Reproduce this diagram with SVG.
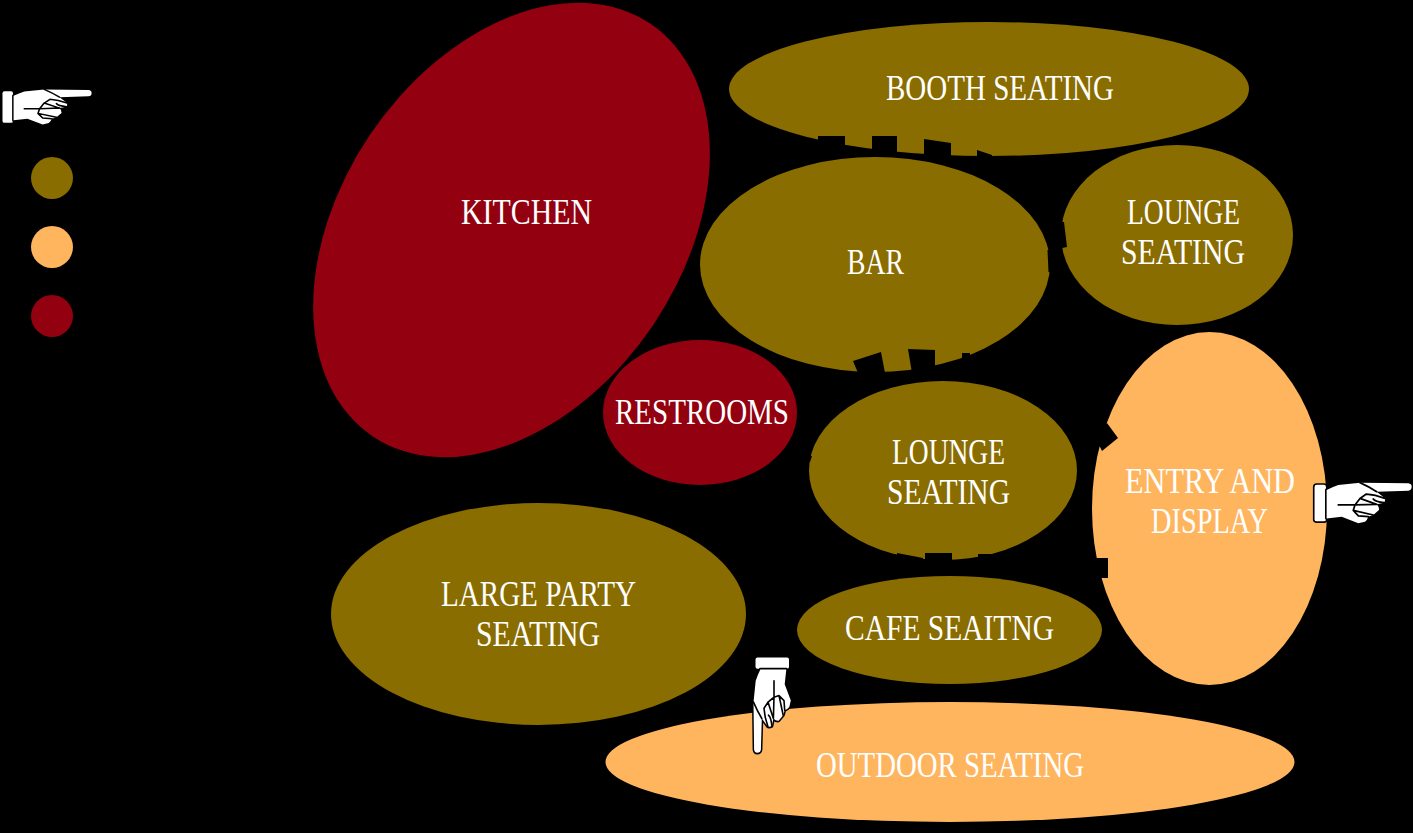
<svg xmlns="http://www.w3.org/2000/svg" xmlns:xlink="http://www.w3.org/1999/xlink" width="1413" height="833" viewBox="0 0 1413 833">
<style>
.o{fill:#8a6d00}.p{fill:#ffb55e}.r{fill:#93000f}.n{fill:#000}
text{font-family:"Liberation Serif","DejaVu Serif",serif;font-size:36px;fill:#fff}
.w{fill:#fff;stroke:#000;stroke-width:3;stroke-linejoin:round;paint-order:stroke}
.l{fill:none;stroke:#000;stroke-width:1.6;stroke-linecap:round;stroke-linejoin:round}
</style>
<defs>
<g id="hand">
<rect class="w" x="0.500" y="3.500" width="10.500" height="33.500" rx="2"/>
<path class="w" d="M11.600 8.300Q17 5.500 22.300 3.700L42.200 1.500L86.500 2.100Q89.600 2.500 89.600 5.200Q89.600 8.500 86.500 8.900L57.500 9.800L65.100 15.900Q65.500 18 64.500 19.900L57.500 21.400Q60 24 59.600 26.600L54.400 31.200L49.800 32.700Q49 35.500 46.800 37.300L40.700 38.800L25.400 32.700L11.600 34.300Z"/>
<path class="l" d="M42.200 1.500Q50 5 57.500 9.800M22.300 22H37.600L42.200 16L48 12Q56 12.500 65.100 15.900M54.400 16.500Q56 19 64.500 19.900M37.600 22L57.500 21.400M42.200 16L57.500 21.400M36 27L54.400 31.200M37.600 22L36 27L40.700 32L49.800 32.700"/>
</g>
</defs>
<rect id="background" width="1413" height="833" fill="#000"/>
<g id="legend">
<g id="legend-hand"><use href="#hand" xlink:href="#hand" transform="translate(2,88) scale(1,.94)"/></g>
<circle id="legend-olive" class="o" cx="52" cy="178" r="21"/>
<circle id="legend-peach" class="p" cx="52" cy="247" r="21"/>
<circle id="legend-red" class="r" cx="52" cy="316" r="21"/>
</g>
<g id="kitchen"><ellipse class="r" cx="0" cy="0" rx="170.600" ry="248.700" transform="translate(511.500,230) rotate(34)"/><text x="461" y="224" textLength="131" lengthAdjust="spacingAndGlyphs">KITCHEN</text></g>
<g id="booth-seating"><ellipse class="o" cx="989" cy="89" rx="260" ry="67"/><text x="886" y="100" textLength="228" lengthAdjust="spacingAndGlyphs">BOOTH SEATING</text></g>
<g id="connectors-top"><path class="n" d="M818 136H845V150H818ZM872 136H897V155H872ZM924 139L951 143V157H924ZM977 150L992 155V160H977Z"/></g>
<g id="bar"><ellipse class="o" cx="875" cy="264.500" rx="175" ry="107.500"/><text x="847" y="274" textLength="57" lengthAdjust="spacingAndGlyphs">BAR</text></g>
<g id="lounge-seating-1"><ellipse class="o" cx="1177" cy="235" rx="116" ry="90"/><text x="1127" y="224" textLength="113" lengthAdjust="spacingAndGlyphs">LOUNGE</text><text x="1121" y="264" textLength="124" lengthAdjust="spacingAndGlyphs">SEATING</text></g>
<g id="restrooms"><ellipse class="r" cx="700" cy="412.500" rx="97" ry="72.500"/><text x="615" y="424" textLength="174" lengthAdjust="spacingAndGlyphs">RESTROOMS</text></g>
<g id="lounge-seating-2"><ellipse class="o" cx="943" cy="470.500" rx="134" ry="89.500"/><text x="892" y="464" textLength="113" lengthAdjust="spacingAndGlyphs">LOUNGE</text><text x="887" y="504" textLength="123" lengthAdjust="spacingAndGlyphs">SEATING</text></g>
<g id="entry-display"><ellipse class="p" cx="1209.500" cy="508.500" rx="117.500" ry="176.500"/><text x="1125" y="493" textLength="170" lengthAdjust="spacingAndGlyphs">ENTRY AND</text><text x="1151" y="533" textLength="117" lengthAdjust="spacingAndGlyphs">DISPLAY</text></g>
<g id="large-party"><ellipse class="o" cx="538.500" cy="614" rx="207.500" ry="111"/><text x="441" y="606" textLength="195" lengthAdjust="spacingAndGlyphs">LARGE PARTY</text><text x="476" y="646" textLength="124" lengthAdjust="spacingAndGlyphs">SEATING</text></g>
<g id="cafe-seating"><ellipse class="o" cx="949.500" cy="630" rx="152.500" ry="54"/><text x="845" y="640" textLength="209" lengthAdjust="spacingAndGlyphs">CAFE SEAITNG</text></g>
<g id="outdoor-seating"><ellipse class="p" cx="950" cy="762" rx="344.500" ry="60"/><text x="816" y="777" textLength="268" lengthAdjust="spacingAndGlyphs">OUTDOOR SEATING</text></g>
<g id="connectors">
<path class="n" d="M853 361L881 352L885 373H858ZM908 349L935 350V367L912 373ZM962 353H970V358H962Z"/>
<path class="n" d="M1047.500 250H1052V272H1048.500ZM1055 222H1064L1067 247L1062 248H1055Z"/>
<path class="n" d="M925 553H952V563H925ZM978 554H1000V560H978ZM897 553L923 558V562H897ZM806 456H812L810 462H806Z"/>
<path class="n" d="M1107 423L1118 438L1102 451L1100 447L1090 440ZM1090 558H1108V578H1090Z"/>
</g>
<g id="hand-entry"><use href="#hand" xlink:href="#hand" transform="translate(1314,481) scale(1.09)"/></g>
<g id="hand-outdoor"><use href="#hand" xlink:href="#hand" transform="matrix(0,1.07,1,0,752,657)"/></g>
</svg>
